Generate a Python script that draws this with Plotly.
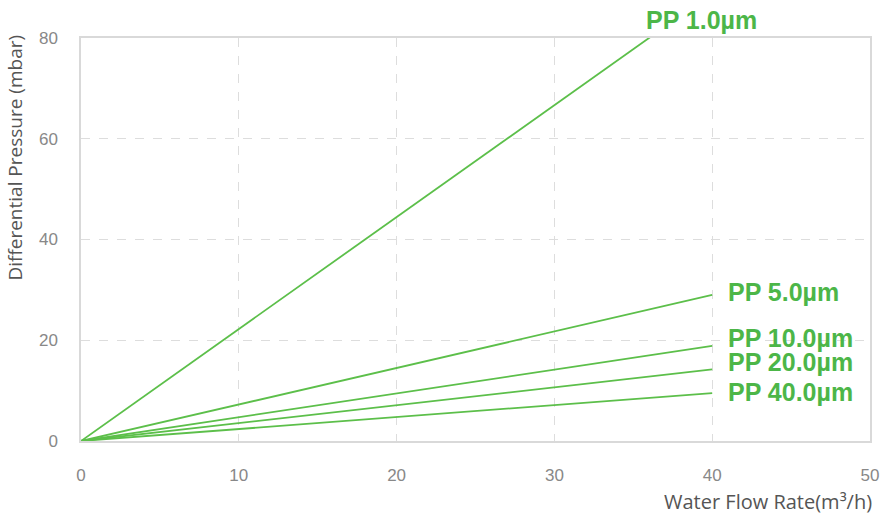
import plotly.graph_objects as go

flow = [0, 40]
series_names = ["PP 1.0µm", "PP 5.0µm", "PP 10.0µm", "PP 20.0µm", "PP 40.0µm"]
pressure_at_40 = [88.9, 29.0, 18.9, 14.2, 9.5]
label_pos_y = [None, 29.5, 20.4, 15.6, 9.7]
label_pos_x = [35.7, 40.9, 40.9, 40.9, 40.9]

line_color = "#5cbf4a"
label_color = "#4cb648"

fig = go.Figure()
for name, p in zip(series_names, pressure_at_40):
    fig.add_trace(go.Scatter(x=flow, y=[0, p], mode="lines",
                             line=dict(color=line_color, width=1.8),
                             name=name, showlegend=False, hoverinfo="skip"))

label_font = dict(family="Liberation Sans", size=25, color=label_color, weight="bold")
# top label sits above the plot area (outside the y range), so it uses paper y
fig.add_annotation(x=label_pos_x[0], y=1.045, xref="x", yref="paper", text=series_names[0],
                   showarrow=False, xanchor="left", yanchor="middle", font=label_font)
for name, lx, ly in zip(series_names[1:], label_pos_x[1:], label_pos_y[1:]):
    fig.add_annotation(x=lx, y=ly, xref="x", yref="y", text=name,
                       showarrow=False, xanchor="left", yanchor="middle", font=label_font)

fig.add_annotation(x=-0.083, y=0.702, xref="paper", yref="paper",
                   text="Differential Pressure (mbar)", textangle=-90,
                   showarrow=False, xanchor="center", yanchor="middle",
                   font=dict(family="Open Sans", size=19, color="#555555"))
fig.add_annotation(x=1.0057, y=-0.151, xref="paper", yref="paper",
                   text="Water Flow Rate(m³/h)",
                   showarrow=False, xanchor="right", yanchor="middle",
                   font=dict(family="Open Sans", size=20, color="#555555"))

fig.update_layout(
    width=891, height=519,
    margin=dict(l=81, r=16, t=38, b=78),
    paper_bgcolor="white", plot_bgcolor="white",
)
fig.update_xaxes(range=[0, 50], tickvals=[0, 10, 20, 30, 40, 50],
                 showgrid=True, gridcolor="#dddddd", griddash="dash", gridwidth=1,
                 showline=True, linecolor="#d9d9d9", linewidth=1.5, mirror=True,
                 zeroline=False, ticks="", ticklabelstandoff=18,
                 tickfont=dict(family="Liberation Sans", size=17, color="#888888"))
fig.update_yaxes(range=[0, 80], tickvals=[0, 20, 40, 60, 80],
                 showgrid=True, gridcolor="#dddddd", griddash="dash", gridwidth=1,
                 showline=True, linecolor="#d9d9d9", linewidth=1.5, mirror=True,
                 zeroline=False, ticks="", ticklabelstandoff=18,
                 tickfont=dict(family="Liberation Sans", size=17, color="#888888"))

fig.write_html(
    "out.html",
    config={"displayModeBar": False},
    post_script="document.body.style.margin='0';document.documentElement.style.overflow='hidden';document.body.style.overflow='hidden';",
)
